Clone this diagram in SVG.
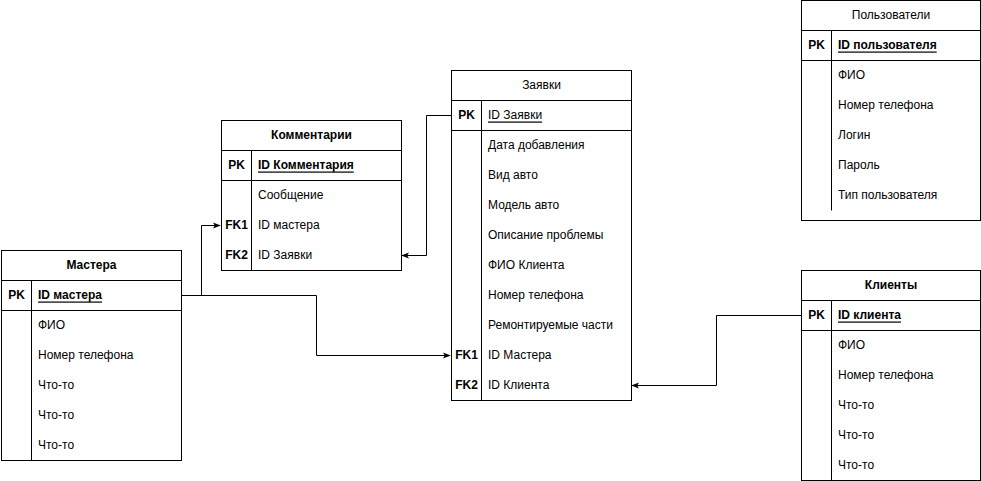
<svg xmlns="http://www.w3.org/2000/svg" width="981" height="481" viewBox="0 0 981 481">
<style>
text{font-family:"Liberation Sans",Arial,sans-serif;font-size:12px;fill:#000}
.t{text-anchor:middle;dominant-baseline:central}
.b{font-weight:bold}
.k{font-weight:bold;text-anchor:middle;dominant-baseline:central}
.v{dominant-baseline:central}
.u{text-decoration:underline}
.box{fill:#fff;stroke:#000;stroke-width:1}
.ln{stroke:#000;stroke-width:1;fill:none}
.c{stroke:#000;stroke-width:1;fill:none;marker-end:url(#arr)}
</style>
<defs>
<marker id="arr" viewBox="0 0 10 10" refX="9" refY="5" markerWidth="8" markerHeight="8" markerUnits="userSpaceOnUse" orient="auto">
<path d="M0,1 L10,5 L0,9 L2.5,5 Z" fill="#000"/>
</marker>
</defs>
<g id="connectors">
<path class="c" d="M181.5,295.5 H201.5 V225.5 H220"/>
<path class="c" d="M181.5,295.5 H316.5 V355.5 H450"/>
<path class="c" d="M451.5,115.5 H426.5 V255.5 H402"/>
<path class="c" d="M801.5,315.5 H716.5 V385.5 H632"/>
</g>
<g id="kommentarii">
<rect class="box" x="221.5" y="120.5" width="180" height="150"/>
<path class="ln" d="M221.5,150.5 H401.5 M221.5,180.5 H401.5 M251.5,150.5 V270.5"/>
<text class="t b" x="311.5" y="135">Комментарии</text>
<text class="k" x="236.5" y="164.5">PK</text>
<text class="v b u" x="258" y="164.5">ID Комментария</text>
<text class="v" x="258" y="194.5">Сообщение</text>
<text class="k" x="236.5" y="224.5">FK1</text>
<text class="v" x="258" y="224.5">ID мастера</text>
<text class="k" x="236.5" y="254.5">FK2</text>
<text class="v" x="258" y="254.5">ID Заявки</text>
</g>
<g id="zayavki">
<rect class="box" x="451.5" y="70.5" width="180" height="330"/>
<path class="ln" d="M451.5,100.5 H631.5 M451.5,130.5 H631.5 M481.5,100.5 V400.5"/>
<text class="t" x="541.5" y="85">Заявки</text>
<text class="k" x="466.5" y="114.5">PK</text>
<text class="v u" x="488" y="114.5">ID Заявки</text>
<text class="v" x="488" y="144.5">Дата добавления</text>
<text class="v" x="488" y="174.5">Вид авто</text>
<text class="v" x="488" y="204.5">Модель авто</text>
<text class="v" x="488" y="234.5">Описание проблемы</text>
<text class="v" x="488" y="264.5">ФИО Клиента</text>
<text class="v" x="488" y="294.5">Номер телефона</text>
<text class="v" x="488" y="324.5">Ремонтируемые части</text>
<text class="k" x="466.5" y="354.5">FK1</text>
<text class="v" x="488" y="354.5">ID Мастера</text>
<text class="k" x="466.5" y="384.5">FK2</text>
<text class="v" x="488" y="384.5">ID Клиента</text>
</g>
<g id="mastera">
<rect class="box" x="1.5" y="250.5" width="180" height="210"/>
<path class="ln" d="M1.5,280.5 H181.5 M1.5,310.5 H181.5 M31.5,280.5 V460.5"/>
<text class="t b" x="91.5" y="265">Мастера</text>
<text class="k" x="16.5" y="294.5">PK</text>
<text class="v b u" x="38" y="294.5">ID мастера</text>
<text class="v" x="38" y="324.5">ФИО</text>
<text class="v" x="38" y="354.5">Номер телефона</text>
<text class="v" x="38" y="384.5">Что-то</text>
<text class="v" x="38" y="414.5">Что-то</text>
<text class="v" x="38" y="444.5">Что-то</text>
</g>
<g id="klienty">
<rect class="box" x="801.5" y="270.5" width="179" height="210"/>
<path class="ln" d="M801.5,300.5 H980.5 M801.5,330.5 H980.5 M831.5,300.5 V480.5"/>
<text class="t b" x="891" y="285">Клиенты</text>
<text class="k" x="816.5" y="314.5">PK</text>
<text class="v b u" x="838" y="314.5">ID клиента</text>
<text class="v" x="838" y="344.5">ФИО</text>
<text class="v" x="838" y="374.5">Номер телефона</text>
<text class="v" x="838" y="404.5">Что-то</text>
<text class="v" x="838" y="434.5">Что-то</text>
<text class="v" x="838" y="464.5">Что-то</text>
</g>
<g id="polzovateli">
<rect class="box" x="801.5" y="0.5" width="179" height="220"/>
<path class="ln" d="M801.5,30.5 H980.5 M801.5,60.5 H980.5 M831.5,30.5 V210.5"/>
<text class="t" x="891" y="15">Пользователи</text>
<text class="k" x="816.5" y="44.5">PK</text>
<text class="v b u" x="838" y="44.5">ID пользователя</text>
<text class="v" x="838" y="74.5">ФИО</text>
<text class="v" x="838" y="104.5">Номер телефона</text>
<text class="v" x="838" y="134.5">Логин</text>
<text class="v" x="838" y="164.5">Пароль</text>
<text class="v" x="838" y="194.5">Тип пользователя</text>
</g>
</svg>
